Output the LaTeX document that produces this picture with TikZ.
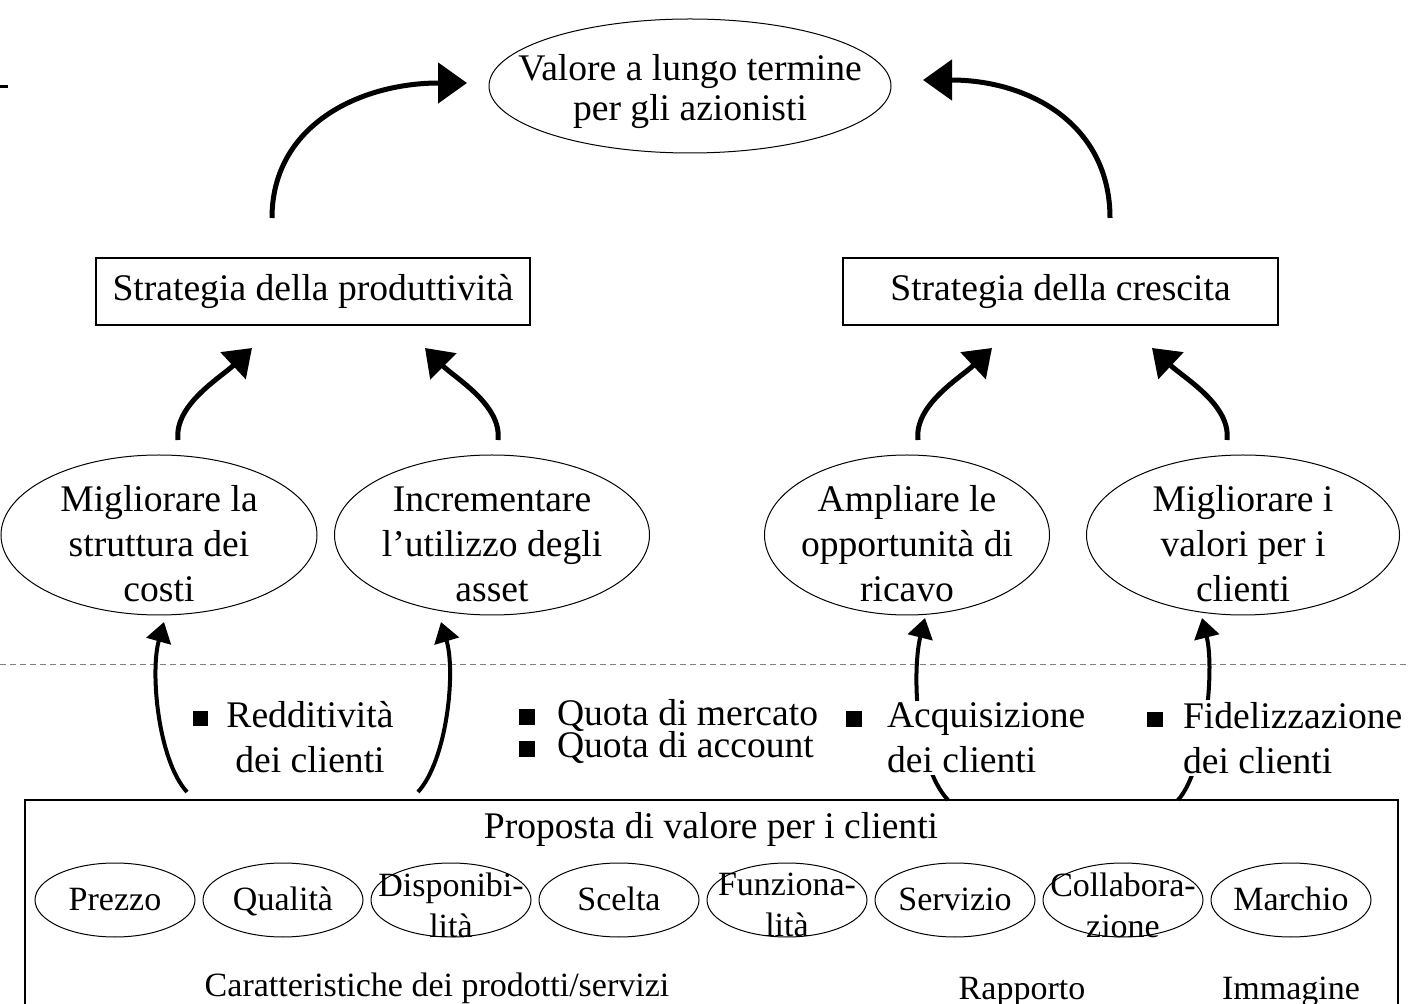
\documentclass[tikz,border=0pt]{standalone}
\usepackage{fontspec}
\setmainfont{Liberation Serif}
\usetikzlibrary{arrows.meta,shapes.geometric}
\newcommand{\bsq}{\rule[0.5pt]{7.8pt}{7.8pt}}
\newcommand{\tightlines}{\fontsize{18.8}{16}\selectfont\lineskiplimit=-100pt\relax}
\begin{document}
\begin{tikzpicture}[x=0.5pt,y=-0.5pt,
  every node/.style={inner sep=0pt, outer sep=0pt},
  ell/.style={draw, ellipse, line width=0.5pt},
  boxed/.style={draw, line width=0.7pt},
  bigfont/.style={font=\fontsize{18.8}{22.5}\selectfont},
  topfont/.style={font=\fontsize{18.8}{20}\selectfont},
  smallfont/.style={font=\fontsize{17}{20.5}\selectfont},
  tightfont/.style={font=\tightlines},
  lab1/.style={smallfont, text height=12pt, text depth=2pt},
  lab2/.style={smallfont, align=center, yshift=-2.5pt},
  bigarr/.style={line width=2.5pt, -{Triangle[length=14.5pt,width=20pt]}},
  midarr/.style={line width=2.5pt, -{Triangle[length=13pt,width=18pt]}},
  smallarr/.style={line width=2pt, -{Triangle[length=10pt,width=12.5pt]}},
  divider/.style={gray, line width=0.5pt, dash pattern=on 3pt off 2pt}
]
\useasboundingbox (0,0) rectangle (1408,1004);

% small mark at top left
\coordinate (mk1) at (0,87); \coordinate (mk2) at (8,87);
\draw[line width=1.5pt] (mk1) -- (mk2);

% top
\node[ell, minimum width=201pt, minimum height=67pt,
  label={[topfont, align=center, yshift=-3pt]center:{Valore a lungo termine\\per gli azionisti}}] (top) at (690,86) {};

% strategy boxes
\node[boxed, minimum width=217pt, minimum height=33.5pt, bigfont] (prod) at (313,291.5) {Strategia della produttività};
\node[boxed, minimum width=217.5pt, minimum height=33.5pt, bigfont] (cresc) at (1060.5,291.5) {Strategia della crescita};

% middle ellipses
\node[ell, minimum width=158pt, minimum height=80pt,
  label={[bigfont, align=center, yshift=-4.5pt]center:{Migliorare la\\struttura dei\\costi}}] (costi) at (159,535) {};
\node[ell, minimum width=157.5pt, minimum height=80pt,
  label={[bigfont, align=center, yshift=-4.5pt]center:{Incrementare\\l’utilizzo degli\\asset}}] (asset) at (492,535) {};
\node[ell, minimum width=142.5pt, minimum height=80pt,
  label={[bigfont, align=center, yshift=-4.5pt]center:{Ampliare le\\opportunità di\\ricavo}}] (ricavo) at (907,535) {};
\node[ell, minimum width=156.5pt, minimum height=80pt,
  label={[bigfont, align=center, yshift=-4.5pt]center:{Migliorare i\\valori per i\\clienti}}] (valori) at (1243,535) {};

% divider
\coordinate (dl) at (0,665); \coordinate (dr) at (1408,665);
\draw[divider] (dl) -- (dr);

% bottom box
\node[boxed, minimum width=686.5pt, minimum height=115pt, anchor=north west] (prop) at (25,800) {};
\node[bigfont, anchor=base] (proptitle) at (711,838) {Proposta di valore per i clienti};

\foreach \nm/\x/\txt in {prezzo/115/Prezzo, qual/283/Qualità, scelta/619/Scelta,
  serv/955/Servizio, marchio/1291/Marchio}
  \node[ell, minimum width=80pt, minimum height=37pt,
    label={[lab1]center:{\txt}}] (\nm) at (\x,900) {};
\foreach \nm/\x/\txt in {disp/451/{Disponibi-\\lità}, funz/787/{Funziona-\\lità}, coll/1123/{Collabora-\\zione}}
  \node[ell, minimum width=80pt, minimum height=37pt,
    label={[lab2]center:{\txt}}] (\nm) at (\x,900) {};

\node[smallfont, anchor=base] (caratt) at (437,996) {Caratteristiche dei prodotti/servizi};
\node[smallfont, anchor=base] (rapp) at (1022,999) {Rapporto};
\node[smallfont, anchor=base] (imm) at (1291,999) {Immagine};

% top arrows
\coordinate (t1s) at (272,218); \coordinate (t1e) at (467,83);
\draw[bigarr] (t1s) .. controls (272,125) and (360,83) .. (t1e);
\coordinate (t2s) at (1110,218); \coordinate (t2e) at (923,80);
\draw[bigarr] (t2s) .. controls (1110,125) and (1030,80) .. (t2e);

% middle arrows
\coordinate (m1s) at (178,440); \coordinate (m1e) at (252,348);
\draw[midarr] (m1s) .. controls (174,405) and (220,378) .. (m1e);
\coordinate (m2s) at (498,440); \coordinate (m2e) at (425,348);
\draw[midarr] (m2s) .. controls (502,405) and (455,378) .. (m2e);
\coordinate (m3s) at (918,440); \coordinate (m3e) at (992,348);
\draw[midarr] (m3s) .. controls (914,405) and (960,378) .. (m3e);
\coordinate (m4s) at (1227,440); \coordinate (m4e) at (1152,348);
\draw[midarr] (m4s) .. controls (1231,405) and (1184,378) .. (m4e);

% bottom arrows
\coordinate (b1s) at (187,792); \coordinate (b1e) at (164,622);
\draw[smallarr] (b1s) .. controls (158,760) and (150,672) .. (b1e);
\coordinate (b2s) at (418,792); \coordinate (b2e) at (441,622);
\draw[smallarr] (b2s) .. controls (447,760) and (456,672) .. (b2e);
\coordinate (b3s) at (948,800); \coordinate (b3e) at (925,618);
\draw[smallarr] (b3s) .. controls (915,765) and (912,670) .. (b3e);
\coordinate (b4s) at (1178,800); \coordinate (b4e) at (1202,618);
\draw[smallarr] (b4s) .. controls (1205,770) and (1215,670) .. (b4e);

% bullet labels
\node[bigfont, align=center] (redd) at (310,737) {\llap{\bsq\hspace{9pt}}Redditività\\dei clienti};
\node[tightfont, align=left, anchor=west] (quota) at (557,732) {\llap{\bsq\hspace{11pt}}Quota di mercato\\\llap{\bsq\hspace{11pt}}Quota di account};
\node[bigfont, align=left, anchor=west, fill=white, inner ysep=1pt] (acq) at (887,738) {\llap{\bsq\hspace{12.5pt}}Acquisizione\\dei clienti};
\node[bigfont, align=left, anchor=west, fill=white, inner ysep=1pt] (fid) at (1183,738) {\llap{\bsq\hspace{10pt}}Fidelizzazione\\dei clienti};
\end{tikzpicture}
\end{document}
